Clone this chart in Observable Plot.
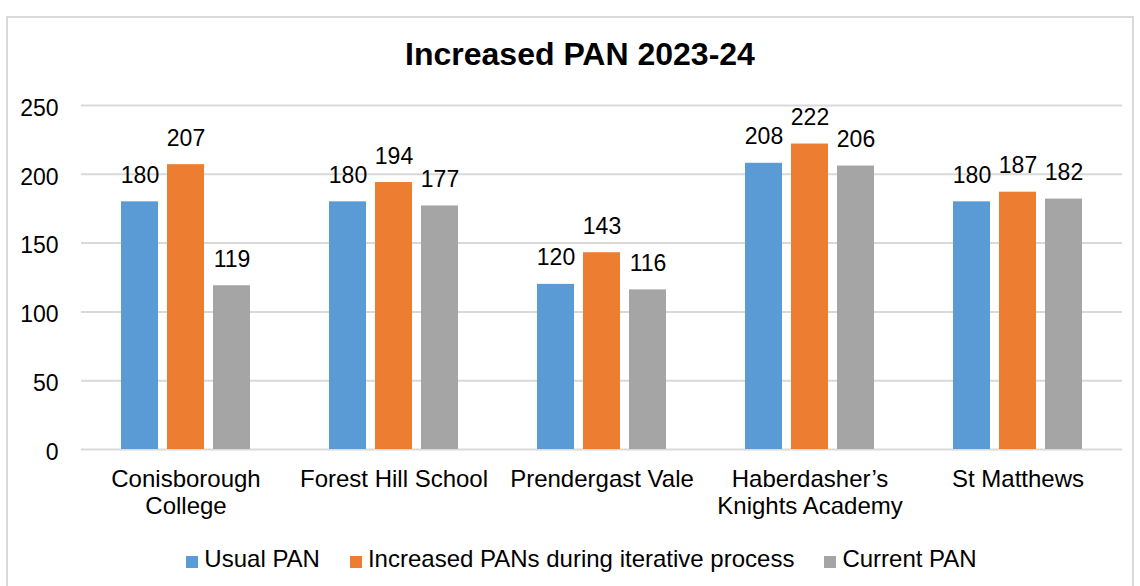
<!DOCTYPE html>
<html>
<head>
<meta charset="utf-8">
<script src="https://cdn.jsdelivr.net/npm/d3@7"></script>
<script src="https://cdn.jsdelivr.net/npm/@observablehq/plot@0.6"></script>
<style>
  html, body { margin: 0; padding: 0; background: #fff; overflow: hidden; }
  #wrap { position: relative; width: 1140px; height: 586px; font-family: "Liberation Sans", Arial, sans-serif; color: #000; }
  #frame { position: absolute; left: 6px; top: 16px; width: 1128px; height: 620px; border: 2px solid #d9d9d9; box-sizing: border-box; }
  #title { position: absolute; left: 0; top: 38px; width: 1160px; text-align: center; font-size: 32px; line-height: 32px; font-weight: bold; }
  #grid, #chart { position: absolute; left: 0; top: 0; }
  #legend { position: absolute; left: 0; top: 547px; width: 1163px; display: flex; justify-content: center; gap: 30px; font-size: 24px; line-height: 23px; }
  .item { display: flex; align-items: center; white-space: nowrap; }
  .sw { width: 12px; height: 12px; margin-right: 6px; transform: translateY(3px); }
</style>
</head>
<body>
<div id="wrap">
  <div id="frame"></div>
  <div id="grid"></div>
  <div id="chart"></div>
  <div id="title">Increased PAN 2023-24</div>
  <div id="legend"></div>
</div>
<script>
const schools = ["Conisborough\nCollege", "Forest Hill School", "Prendergast Vale", "Haberdasher’s\nKnights Academy", "St Matthews"];
const seriesNames = ["Usual PAN", "Increased PANs during iterative process", "Current PAN"];
const usualPAN = [180, 180, 120, 208, 180];
const increasedPAN = [207, 194, 143, 222, 187];
const currentPAN = [119, 177, 116, 206, 182];
const seriesColors = ["#5B9BD5", "#ED7D31", "#A5A5A5"];
const yTicks = [0, 50, 100, 150, 200, 250];

const seriesValues = [usualPAN, increasedPAN, currentPAN];
const data = [];
schools.forEach((s, i) => {
  seriesNames.forEach((n, j) => data.push({school: s, series: n, value: seriesValues[j][i]}));
});

const common = {
  width: 1140,
  height: 530,
  marginLeft: 81,
  marginRight: 18,
  marginTop: 105,
  marginBottom: 81,
  style: {fontFamily: '"Liberation Sans", Arial, sans-serif', fontSize: "23px", color: "#000", background: "transparent"}
};

// Background layer: gridlines spanning the full plot width, plus the y axis
const grid = Plot.plot({
  ...common,
  x: {domain: [0, 1], axis: null},
  y: {domain: [0, 250], label: null, axis: null},
  marks: [
    Plot.gridY(yTicks, {stroke: "#d9d9d9", strokeOpacity: 1, strokeWidth: 2}),
    Plot.axisY(yTicks, {tickSize: 0, tickPadding: 23, fontSize: 23, dy: 3, label: null})
  ]
});
document.getElementById("grid").appendChild(grid);

// Foreground layer: grouped bars, value labels, category axis
const chart = Plot.plot({
  ...common,
  fx: {domain: schools, paddingInner: 0.38, paddingOuter: 0.19, label: null, axis: null},
  x: {domain: seriesNames, paddingInner: 0.196, paddingOuter: 0, axis: null},
  y: {domain: [0, 250], label: null, axis: null},
  color: {domain: seriesNames, range: seriesColors},
  marks: [
    Plot.axisFx({anchor: "bottom", tickSize: 0, tickPadding: 19, fontSize: 24, lineHeight: 1.1, label: null}),
    Plot.barY(data, {fx: "school", x: "series", y: "value", fill: "series"}),
    Plot.text(data, {fx: "school", x: "series", y: "value", text: d => String(d.value), lineAnchor: "bottom", dy: -19, fontSize: 23, fill: "#000"})
  ]
});
document.getElementById("chart").appendChild(chart);

const legend = document.getElementById("legend");
seriesNames.forEach((n, j) => {
  const item = document.createElement("div");
  item.className = "item";
  const sw = document.createElement("div");
  sw.className = "sw";
  sw.style.background = seriesColors[j];
  const t = document.createElement("span");
  t.textContent = n;
  item.appendChild(sw);
  item.appendChild(t);
  legend.appendChild(item);
});
</script>
</body>
</html>
